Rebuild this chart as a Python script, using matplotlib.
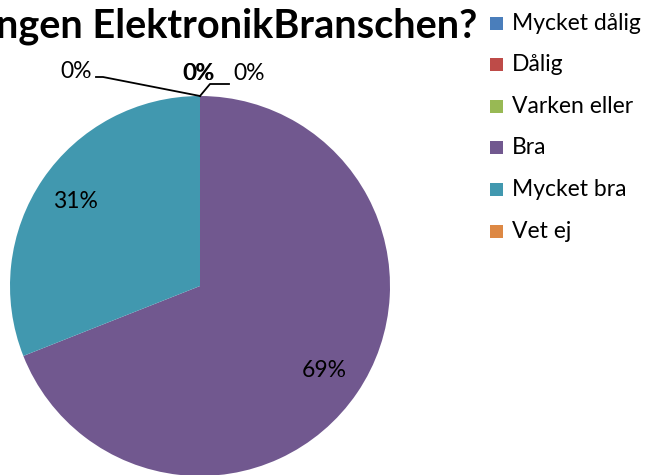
import matplotlib
matplotlib.use("Agg")
import matplotlib.pyplot as plt
from matplotlib.patches import Rectangle

plt.rcParams["font.family"] = ["Lato", "DejaVu Sans"]

categories = ["Mycket dålig", "Dålig", "Varken eller", "Bra", "Mycket bra", "Vet ej"]
values     = [0, 0, 0, 69, 31, 0]
colors     = ["#4A7EBB", "#BE4B48", "#98B954", "#71588F", "#4198AF", "#DD8844"]
title_text = "ngen ElektronikBranschen?"

W, H = 650, 475
fig = plt.figure(figsize=(W / 100, H / 100), dpi=100)
ax = fig.add_axes([0, 0, 1, 1])

cx, cy, r = 200, H - 286, 190

wedges, _, autotexts = ax.pie(
    values, colors=colors, startangle=90, counterclock=False,
    center=(cx, cy), radius=r, frame=True,
    autopct=lambda p: f"{p:.0f}%" if p > 0 else "",
    pctdistance=0.79, textprops=dict(fontsize=16.5, color="black"),
)
ax.set_xlim(0, W)
ax.set_ylim(0, H)
ax.set_aspect("equal")
ax.axis("off")

# labels for the empty slices, with leader lines
zero = [v for v in values if v == 0]
top = (cx, cy + r)
ax.plot([top[0], 103, 96], [top[1], H - 77, H - 77], color="black", lw=1.3)
ax.text(76, H - 71, f"{zero[0]}%", fontsize=16.5, ha="center", va="center")
ax.text(198, H - 73, f"{zero[1]}%", fontsize=16.5, ha="center", va="center")
ax.text(199, H - 73, f"{zero[2]}%", fontsize=16.5, ha="center", va="center")
ax.plot([top[0], 210, 229], [top[1], H - 84, H - 84], color="black", lw=1.3)
ax.text(249, H - 73, f"{zero[3]}%", fontsize=16.5, ha="center", va="center")

# title (cut off at the left in the original)
ax.text(-4, H - 26, title_text, fontsize=28.5, fontweight="bold",
        ha="left", va="center")

# legend
for i, (lab, col) in enumerate(zip(categories, colors)):
    y = H - (23 + i * 41.6)
    ax.add_patch(Rectangle((490, y - 6.5), 13, 13, facecolor=col, edgecolor="none"))
    ax.text(512, y, lab, fontsize=16.5, ha="left", va="center")

fig.savefig("out.png", dpi=100)
